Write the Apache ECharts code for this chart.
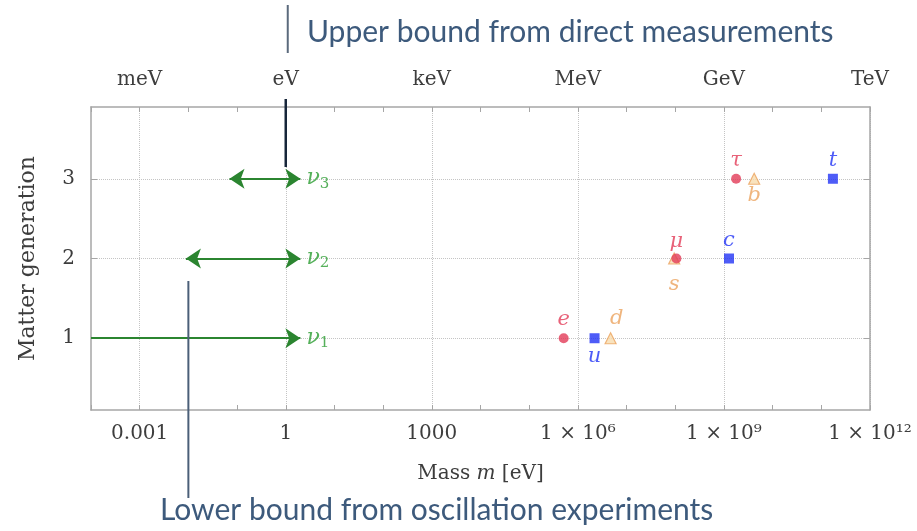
<!DOCTYPE html>
<html><head><meta charset="utf-8">
<script src="https://cdn.jsdelivr.net/npm/echarts@6/dist/echarts.min.js"></script>
<style>html,body{margin:0;padding:0;background:#fff}#c{width:917px;height:531px}</style>
</head><body><div id="c"></div>
<script>
// ---- data ----
const leptonNames = ['e', 'μ', 'τ'];
const leptonMass = [0.511e6, 105.7e6, 1.777e9];
const leptonGen = [1, 2, 3];
const upNames = ['u', 'c', 't'];
const upMass = [2.2e6, 1.27e9, 173e9];
const upGen = [1, 2, 3];
const downNames = ['d', 's', 'b'];
const downMass = [4.7e6, 95e6, 4.18e9];
const downGen = [1, 2, 3];
const nuSub = ['1', '2', '3'];
const nuLower = [1e-4, 0.0089, 0.07];
const nuUpper = [2, 2, 2];
const nuGen = [1, 2, 3];
const bottomTickExp = [-3, 0, 3, 6, 9, 12];
const bottomTickLabels = ['0.001', '1', '1000', '1 × 10⁶', '1 × 10⁹', '1 × 10¹²'];
const topTickLabels = ['meV', 'eV', 'keV', 'MeV', 'GeV', 'TeV'];
const genTicks = [1, 2, 3];
const upperBoundEV = 1;
const lowerBoundEV = 0.01;
const upperText = 'Upper bound from direct measurements';
const lowerText = 'Lower bound from oscillation experiments';

// ---- styles ----
const SERIF = 'DejaVu Serif';
const AXIS_C = '#a6a6a6';
const GRID_C = '#c4c4c4';
const TXT_C = '#3d3d3d';
const RED = '#e23b58', BLUE = '#2233f5', ORANGE = '#eba25e';
const leptonLabelPos = [{position: 'top', distance: 3}, {position: 'top', distance: 1}, {position: 'top', distance: 3}];
const upLabelPos = [{position: 'bottom', distance: 3}, {position: 'top', distance: 2}, {position: 'top', distance: 3}];
const downLabelPos = [{position: 'top', distance: 3, offset: [6, 0]}, {position: 'bottom', distance: 9}, {position: 'bottom', distance: 0}];

function pts(mass, gen, names, pos) {
  return mass.map((m, i) => ({
    value: [m, gen[i]], name: names[i],
    label: Object.assign({show: true, formatter: '{i|' + names[i] + '}'}, pos[i])
  }));
}
const labelRich = (c) => ({i: {fontFamily: SERIF, fontStyle: 'italic', fontSize: 21, color: c}});

const xValueAxisBase = {
  type: 'value', min: -4, max: 12, interval: 1, gridIndex: 0,
  axisLine: {show: true, onZero: false, lineStyle: {color: AXIS_C, width: 1.5}},
  axisTick: {show: true, inside: true, length: 5, lineStyle: {color: AXIS_C, width: 1}},
};

const option = {
  animation: false,
  backgroundColor: '#fff',
  grid: {left: 91, right: 47, top: 107, bottom: 121, containLabel: false},
  xAxis: [
    {type: 'log', logBase: 10, min: 1e-4, max: 1e12, show: false, gridIndex: 0, axisLine: {onZero: false}},
    Object.assign({}, xValueAxisBase, {
      position: 'bottom',
      axisLabel: {
        margin: 14, color: TXT_C, fontFamily: SERIF, fontSize: 20,
        formatter: v => { const i = bottomTickExp.indexOf(Math.round(v)); return i >= 0 ? bottomTickLabels[i] : ''; }
      },
      splitLine: {show: true, lineStyle: {type: 'dotted', width: 1, color: ['rgba(0,0,0,0)', GRID_C, 'rgba(0,0,0,0)']}},
      name: '{n|Mass }{i|m}{n| [eV]}', nameLocation: 'middle', nameGap: 54,
      nameTextStyle: {rich: {
        n: {fontFamily: SERIF, fontSize: 20, color: TXT_C},
        i: {fontFamily: SERIF, fontSize: 20, fontStyle: 'italic', color: TXT_C}
      }}
    }),
    Object.assign({}, xValueAxisBase, {
      position: 'top',
      axisLabel: {
        margin: 17, color: TXT_C, fontFamily: SERIF, fontSize: 20,
        formatter: v => { const i = bottomTickExp.indexOf(Math.round(v)); return i >= 0 ? topTickLabels[i] : ''; }
      },
      splitLine: {show: false}
    })
  ],
  yAxis: [
    {
      type: 'value', min: 0.1, max: 3.9, position: 'left',
      axisLine: {show: true, onZero: false, lineStyle: {color: AXIS_C, width: 1.5}},
      axisTick: {show: true, inside: true, length: 6, customValues: genTicks, lineStyle: {color: AXIS_C}},
      axisLabel: {customValues: genTicks, margin: 16, color: TXT_C, fontFamily: SERIF, fontSize: 20},
      splitLine: {show: true, lineStyle: {type: 'dotted', width: 1, color: GRID_C}},
      name: 'Matter generation', nameLocation: 'middle', nameRotate: 90, nameGap: 52,
      nameTextStyle: {fontFamily: SERIF, fontSize: 22, color: TXT_C}
    },
    {
      type: 'value', min: 0.1, max: 3.9, position: 'right',
      axisLine: {show: true, onZero: false, lineStyle: {color: AXIS_C, width: 1.5}},
      axisTick: {show: true, inside: true, length: 6, customValues: genTicks, lineStyle: {color: AXIS_C}},
      axisLabel: {show: false},
      splitLine: {show: false}
    }
  ],
  series: [
    {
      type: 'lines', coordinateSystem: 'cartesian2d', xAxisIndex: 0, yAxisIndex: 0, z: 3,
      symbol: ['arrow', 'arrow'], symbolSize: 15,
      lineStyle: {color: '#2b8530', width: 2.2, opacity: 1, curveness: 0},
      label: {show: true, position: 'end', distance: 6,
        rich: {n: {fontFamily: SERIF, fontStyle: 'italic', fontSize: 22, color: '#55b05a'},
               s: {fontFamily: SERIF, fontSize: 15, color: '#55b05a', padding: [10, 0, 0, 0]}}},
      data: nuLower.map((lo, i) => ({
        coords: [[lo, nuGen[i]], [nuUpper[i], nuGen[i]]],
        symbol: i === 0 ? ['none', 'arrow'] : ['arrow', 'arrow'],
        label: {formatter: '{n|ν}{s|' + nuSub[i] + '}'}
      }))
    },
    {
      type: 'scatter', xAxisIndex: 0, yAxisIndex: 0, symbol: 'triangle', symbolSize: 11, z: 4,
      itemStyle: {color: '#f8dcae', borderColor: ORANGE, borderWidth: 1.2},
      label: {rich: labelRich(ORANGE)},
      data: pts(downMass, downGen, downNames, downLabelPos)
    },
    {
      type: 'scatter', xAxisIndex: 0, yAxisIndex: 0, symbol: 'rect', symbolSize: 10, z: 5,
      itemStyle: {color: BLUE},
      label: {rich: labelRich(BLUE)},
      data: pts(upMass, upGen, upNames, upLabelPos)
    },
    {
      type: 'scatter', xAxisIndex: 0, yAxisIndex: 0, symbol: 'circle', symbolSize: 10, z: 6,
      itemStyle: {color: RED},
      label: {rich: labelRich(RED)},
      data: pts(leptonMass, leptonGen, leptonNames, leptonLabelPos)
    }
  ]
};

const chart = echarts.init(document.getElementById('c'));
chart.setOption(option);

const xUp = chart.convertToPixel({xAxisIndex: 0}, upperBoundEV);
const xLow = chart.convertToPixel({xAxisIndex: 0}, lowerBoundEV);
chart.setOption({
  graphic: [
    {type: 'line', shape: {x1: xUp + 2, y1: 5, x2: xUp + 2, y2: 53}, style: {stroke: '#5b6a7c', lineWidth: 2}},
    {type: 'line', shape: {x1: xUp, y1: 99, x2: xUp, y2: 167}, style: {stroke: '#17263a', lineWidth: 2.5}, z: 10},
    {type: 'text', x: 307, y: 32, style: {text: upperText, font: '30px Lato', fill: '#3d5a7c', verticalAlign: 'middle'}},
    {type: 'line', shape: {x1: xLow, y1: 281, x2: xLow, y2: 498}, style: {stroke: '#4b5f78', lineWidth: 2}, z: 10},
    {type: 'text', x: 160, y: 510, style: {text: lowerText, font: '30px Lato', fill: '#3d5a7c', verticalAlign: 'middle'}}
  ]
});
</script>
</body></html>
